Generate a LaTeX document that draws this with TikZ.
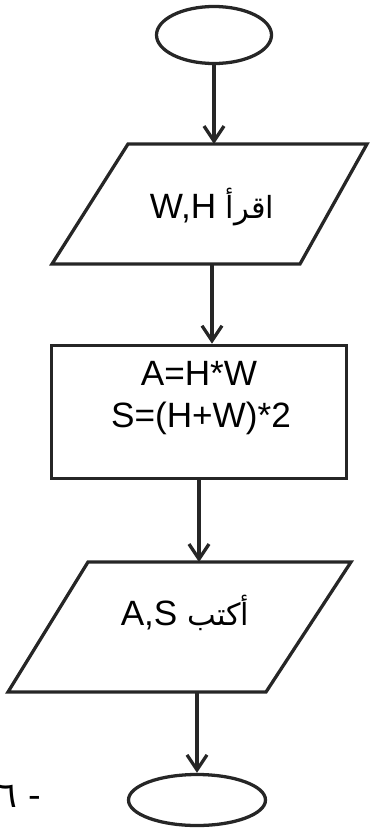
\documentclass[tikz,border=0pt]{standalone}
\usepackage{fontspec}
\setmainfont{Liberation Sans}
\newfontfamily\arabicfont[Script=Arabic]{DejaVu Sans}
\TeXXeTstate=1
\usetikzlibrary{arrows.meta,shapes.geometric}

\begin{document}
\begin{tikzpicture}[x=0.03cm,y=-0.03cm,line width=2.8pt,draw=black!85,
    >={Straight Barb[length=4.5mm,width=6mm]},
    txt/.style={font=\fontsize{30}{36}\selectfont,inner sep=0pt},
    ar/.style={font=\fontsize{30}{34}\selectfont\arabicfont,inner sep=0pt}]
  \useasboundingbox (0,0) rectangle (372,830);

  % start / stop
  \node [draw,ellipse,minimum width=3.45cm,minimum height=1.71cm] (start) at (214,35) {};
  \node [draw,ellipse,minimum width=4.11cm,minimum height=1.53cm] (stop) at (197,800) {};

  % input
  \draw (128,144) -- (367,144) -- (300,264) -- (52,264) -- cycle;
  \coordinate (readin) at (214,144);
  \coordinate (readout) at (212,264);
  \node [txt,anchor=base] (read) at (212,218)
    {\beginR{\arabicfont\fontsize{26}{30}\selectfont اقرأ} \beginL W,H\endL\endR};

  % process
  \node [draw,minimum width=8.85cm,minimum height=4cm] (calc) at (199,412) {};
  \node [txt,anchor=base] (area) at (199,385) {A=H*W};
  \node [txt,anchor=base] (perim) at (201,427) {S=(H+W)*2};

  % output
  \draw (88,562) -- (351,562) -- (266,692) -- (8,692) -- cycle;
  \coordinate (writein) at (199,562);
  \coordinate (writeout) at (197,692);
  \node [txt,anchor=base] (write) at (185,625)
    {\beginR{\arabicfont\fontsize{26}{30}\selectfont أكتب} \beginL A,S\endL\endR};

  \draw [->] (start.south) -- (readin);
  \draw [->] (readout) -- (readout |- calc.north);
  \draw [->] (calc.south) -- (writein);
  \draw [->] (writeout) -- (stop.north);

  % page number
  \node [ar,anchor=base west] (pagenum) at (-3,807) {\beginR - ٦\endR};
\end{tikzpicture}
\end{document}
